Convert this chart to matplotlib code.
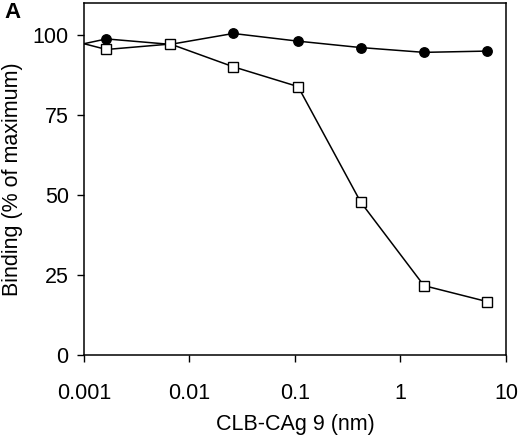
import numpy as np
import matplotlib
matplotlib.use("Agg")
import matplotlib.pyplot as plt

# -----------------------------
# Data (4-fold dilutions)
# -----------------------------
conc_nm = [0.001, 0.00163, 0.0066, 0.026, 0.107, 0.42, 1.67, 6.65]
filled_circles = [97.3, 98.8, 97.1, 100.5, 98.1, 96.1, 94.6, 95.0]
open_squares = [97.3, 95.5, 97.2, 90.1, 83.9, 47.8, 21.7, 16.7]

y_ticks = [0, 25, 50, 75, 100]
x_ticks = [0.001, 0.01, 0.1, 1, 10]
x_tick_labels = ["0.001", "0.01", "0.1", "1", "10"]

plt.rcParams["font.family"] = ["Liberation Sans", "DejaVu Sans"]

fig = plt.figure(figsize=(5.2, 4.4), dpi=100)
ax = fig.add_axes([0.1615, 0.193, 0.8115, 0.800])

# first point sits on the left axis, drawn as line only
marks = list(range(1, len(conc_nm)))
ax.plot(conc_nm, filled_circles, color="black", lw=1.1, marker="o",
        ms=6.8, mfc="black", mec="black", markevery=marks, zorder=2)
ax.plot(conc_nm, open_squares, color="black", lw=1.1, marker="s",
        ms=7.6, mfc="white", mec="black", mew=1.0, markevery=marks, zorder=3)

ax.set_xscale("log")
ax.set_xlim(0.001, 10)
ax.set_ylim(0, 110)
ax.set_xticks(x_ticks)
ax.set_xticklabels(x_tick_labels)
ax.minorticks_off()
ax.set_yticks(y_ticks)
ax.tick_params(direction="out", length=5, width=1.0, labelsize=15.5)
ax.tick_params(axis="x", pad=15)
ax.tick_params(axis="y", pad=6)
for sp in ax.spines.values():
    sp.set_linewidth(1.1)

ax.set_xlabel("CLB-CAg 9 (nm)", fontsize=15.5, labelpad=7)
ax.set_ylabel("Binding (% of maximum)", fontsize=15.5, labelpad=7)

fig.text(0.008, 0.995, "A", fontsize=16, fontweight="bold", va="top", ha="left")

fig.savefig("out.png", dpi=100)
